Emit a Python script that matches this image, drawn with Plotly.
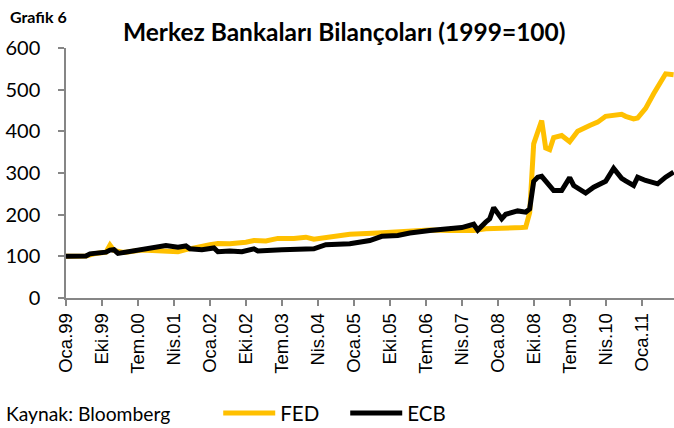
import plotly.graph_objects as go

# ---- data (month index: months since Jan 1999) ----
fed_months = [0, 5, 7, 10, 11, 12, 14, 15, 19, 23, 25, 28, 30, 31, 33, 36, 38, 41, 45, 47, 50, 53,
              57, 60, 62, 67, 71, 78, 83, 86, 91, 96, 102, 105, 112, 114, 115, 116, 117, 119, 120,
              121, 122, 124, 126, 128, 131, 133, 135, 137, 139, 140, 142, 143, 145, 147, 148, 150, 152]
fed_values = [100, 101, 106, 110, 127, 114, 110, 110, 115, 114, 112, 111, 116, 118, 124, 128, 131, 130,
              134, 138, 137, 143, 143, 146, 141, 146, 153, 156, 159, 158, 163, 162, 162, 166, 166, 169,
              170, 205, 370, 426, 360, 356, 385, 390, 375, 400, 414, 422, 436, 438, 441, 436, 430, 432,
              455, 490, 505, 538, 536]

ecb_months = [0, 5, 6, 10, 11, 12, 13, 15, 19, 23, 25, 28, 30, 31, 34, 37, 38, 41, 44, 47, 48, 54, 58,
              61, 62, 65, 71, 76, 79, 83, 86, 91, 94, 99, 102, 103, 105, 106, 107, 109, 110, 113, 115,
              116, 117, 118, 119, 121, 122, 124, 126, 127, 128, 130, 132, 134, 135, 137, 139, 140, 142,
              143, 145, 148, 150, 152]
ecb_values = [100, 101, 106, 110, 115, 116, 107, 110, 116, 120, 126, 122, 125, 118, 116, 120, 111, 113,
              111, 118, 113, 116, 118, 120, 118, 128, 130, 138, 148, 150, 156, 162, 164, 169, 177, 163,
              182, 190, 217, 190, 201, 209, 206, 214, 280, 290, 292, 270, 258, 258, 289, 270, 263, 252,
              266, 274, 280, 311, 287, 281, 270, 290, 282, 274, 290, 302]

tick_months = [0, 9, 18, 27, 36, 45, 54, 63, 72, 81, 90, 99, 108, 117, 126, 135, 144]
tick_labels = ["Oca.99", "Eki.99", "Tem.00", "Nis.01", "Oca.02", "Eki.02", "Tem.03", "Nis.04",
               "Oca.05", "Eki.05", "Tem.06", "Nis.07", "Oca.08", "Eki.08", "Tem.09", "Nis.10", "Oca.11"]

W, H = 674, 428
L, R, T, B = 65.7, 0, 47.7, 130.3
X_END = 152.1


def px(xp):
    return (xp - L) / (W - L - R)


def py(yp):
    return 1 - (yp - T) / (H - T - B)


fig = go.Figure()
fig.add_trace(go.Scatter(x=fed_months, y=fed_values, mode="lines", name="FED",
                         line=dict(color="#FFC000", width=5), cliponaxis=True))
fig.add_trace(go.Scatter(x=ecb_months, y=ecb_values, mode="lines", name="ECB",
                         line=dict(color="#000000", width=5), cliponaxis=True))

axis_col = "#868686"
fig.update_layout(
    width=W, height=H,
    margin=dict(l=L, r=R, t=T, b=B, pad=0, autoexpand=False),
    paper_bgcolor="white", plot_bgcolor="white",
    showlegend=True,
    legend=dict(orientation="h", x=px(218), xanchor="left", y=py(413), yanchor="middle",
                font=dict(family="Lato", size=20.5, color="#000000"), itemwidth=52,
                entrywidth=60, entrywidthmode="pixels", bgcolor="rgba(0,0,0,0)"),
    xaxis=dict(range=[0, X_END], tickmode="array", tickvals=tick_months, ticktext=tick_labels,
               tickangle=-90, ticks="outside", ticklen=6, tickcolor=axis_col, tickwidth=1.5,
               showline=True, linecolor=axis_col, linewidth=1.5, showgrid=False, zeroline=False,
               automargin=False,
               tickfont=dict(family="Liberation Sans", size=18.5, color="#000000")),
    yaxis=dict(range=[0, 600], dtick=100, ticks="outside", ticklen=6, tickcolor=axis_col,
               tickwidth=1.5, showline=True, linecolor=axis_col, linewidth=1.5, showgrid=False,
               zeroline=False, ticklabelstandoff=14, automargin=False,
               tickfont=dict(family="Lato", size=20, color="#000000")),
    annotations=[
        dict(text="<b>Merkez Bankaları Bilançoları (1999=100)</b>", xref="paper", yref="paper",
             x=px(344), y=py(31), xanchor="center", yanchor="middle", showarrow=False,
             font=dict(family="Lato", size=24.5, color="#000000")),
        dict(text="<b>Grafik 6</b>", xref="paper", yref="paper",
             x=px(8), y=py(16), xanchor="left", yanchor="middle", showarrow=False,
             font=dict(family="Lato", size=16, color="#000000")),
        dict(text="Kaynak: Bloomberg", xref="paper", yref="paper",
             x=px(4), y=py(413), xanchor="left", yanchor="middle", showarrow=False,
             font=dict(family="Lato", size=19.3, color="#000000")),
    ],
)

fig.write_html("out.html", config={"displayModeBar": False},
               post_script="document.body.style.margin='0';document.body.style.overflow='hidden';")
